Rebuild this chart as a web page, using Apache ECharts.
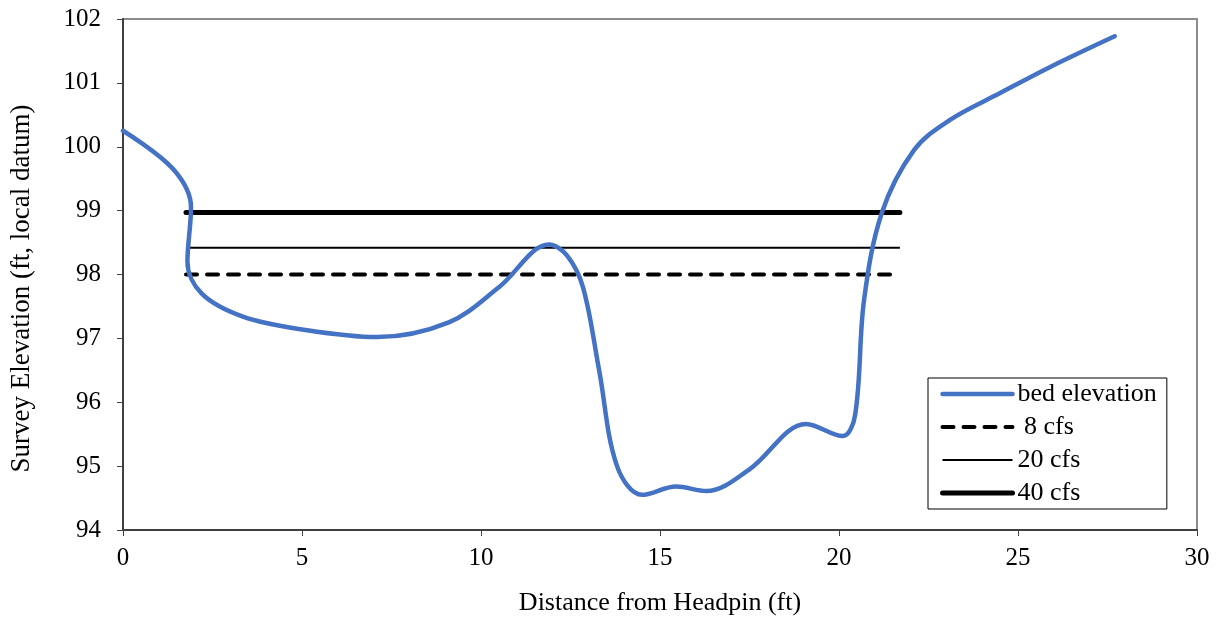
<!DOCTYPE html>
<html><head><meta charset="utf-8">
<script src="https://cdn.jsdelivr.net/npm/echarts@6/dist/echarts.min.js"></script>
<style>html,body{margin:0;padding:0;background:#fff}#c{width:1224px;height:621px}</style>
</head><body><div id="c"></div>
<script>
var bedX = [0, 1.4, 1.9, 1.8, 2.2, 3.35, 5, 7.1, 9.1, 10.5, 11.9, 12.4, 12.85, 13.3, 13.8, 14.5, 15.45, 16.3, 17.5, 19.08, 20.1, 20.45, 20.7, 21.2, 22.1, 23.1, 24.5, 25.9, 27.7];
var bedY = [100.25, 99.65, 99.05, 98.2, 97.7, 97.34, 97.14, 97.02, 97.25, 97.8, 98.47, 98.3, 97.8, 96.5, 95.0, 94.55, 94.68, 94.61, 94.95, 95.66, 95.47, 95.8, 97.6, 98.97, 99.95, 100.42, 100.84, 101.25, 101.73];
var flowNames = [' 8 cfs', '20 cfs', '40 cfs'];
var flowLevels = [98.0, 98.42, 98.97];
var flowStartX = 1.76;
var flowEndX = 21.7;
var xTicks = {min: 0, max: 30, interval: 5};
var yTicks = {min: 94, max: 102, interval: 1};

var font = 'Liberation Serif';
var bed = bedX.map(function (x, i) { return [x, bedY[i]]; });
function flow(i) { return [[flowStartX, flowLevels[i]], [flowEndX, flowLevels[i]]]; }

var bedStyle = {color: '#4472C4', width: 4.5, cap: 'round'};
var flowStyles = [
  {color: '#000', width: 4, type: [11, 10], cap: 'round'},
  {color: '#000', width: 2},
  {color: '#000', width: 5, cap: 'round'}
];

var chart = echarts.init(document.getElementById('c'), null, {renderer: 'canvas'});
chart.setOption({
  animation: false,
  backgroundColor: '#fff',
  grid: {left: 123, right: 27, top: 19, bottom: 90, show: true, borderColor: '#8c8c8c', borderWidth: 2, backgroundColor: 'transparent'},
  xAxis: {
    type: 'value', min: xTicks.min, max: xTicks.max, interval: xTicks.interval,
    name: 'Distance from Headpin (ft)', nameLocation: 'middle', nameGap: 60,
    nameTextStyle: {fontFamily: font, fontSize: 26, color: '#000'},
    axisLine: {show: true, lineStyle: {color: '#404040', width: 2}},
    axisTick: {show: true, inside: false, length: 6, lineStyle: {color: '#404040', width: 1}},
    axisLabel: {fontFamily: font, fontSize: 25, color: '#000', margin: 16},
    splitLine: {show: false}
  },
  yAxis: {
    type: 'value', min: yTicks.min, max: yTicks.max, interval: yTicks.interval,
    name: 'Survey Elevation (ft, local datum)', nameLocation: 'middle', nameGap: 88,
    nameTextStyle: {fontFamily: font, fontSize: 27, color: '#000', padding: [0, 28, 0, 0]},
    axisLine: {show: true, lineStyle: {color: '#404040', width: 2}},
    axisTick: {show: true, inside: false, length: 6, lineStyle: {color: '#404040', width: 1}},
    axisLabel: {fontFamily: font, fontSize: 25, color: '#000', margin: 22},
    splitLine: {show: false}
  },
  legend: {
    orient: 'vertical', left: 928, top: 378,
    backgroundColor: '#fff', borderColor: '#000', borderWidth: 1,
    padding: [3, 10, 3, 12], itemWidth: 70, itemHeight: 14, itemGap: 7,
    itemStyle: {opacity: 0},
    textStyle: {fontFamily: font, fontSize: 26, color: '#000'},
    data: [
      {name: 'bed elevation', lineStyle: bedStyle},
      {name: flowNames[0], lineStyle: flowStyles[0]},
      {name: flowNames[1], lineStyle: flowStyles[1]},
      {name: flowNames[2], lineStyle: flowStyles[2]}
    ]
  },
  series: [
    {name: 'bed elevation', type: 'line', data: bed, smooth: 0.35, symbol: 'none',
     lineStyle: bedStyle, itemStyle: {color: '#4472C4'}, z: 3},
    {name: flowNames[0], type: 'line', data: flow(0), symbol: 'none',
     lineStyle: flowStyles[0], itemStyle: {color: '#000'}, z: 2},
    {name: flowNames[1], type: 'line', data: flow(1), symbol: 'none',
     lineStyle: flowStyles[1], itemStyle: {color: '#000'}, z: 2},
    {name: flowNames[2], type: 'line', data: flow(2), symbol: 'none',
     lineStyle: flowStyles[2], itemStyle: {color: '#000'}, z: 2}
  ]
});
</script></body></html>
